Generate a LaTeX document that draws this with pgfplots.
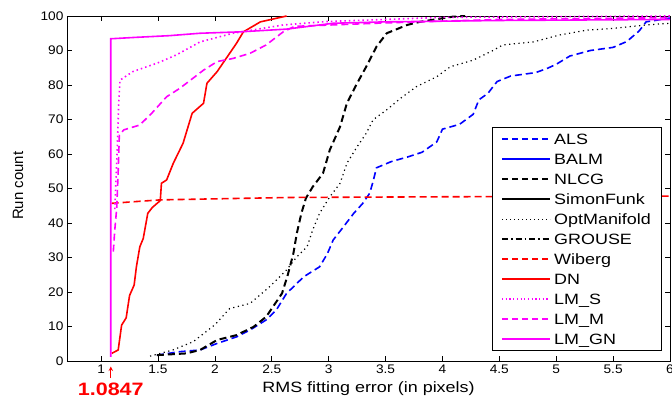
\documentclass[border=0pt]{standalone}
\usepackage{pgfplots}
\pgfplotsset{compat=1.18}
\usepackage{fontspec}
\setmainfont[FakeStretch=1.2]{Liberation Sans}
\newfontfamily\tickfont[FakeStretch=1.1]{Liberation Sans}
\newfontfamily\plainfont{Liberation Sans}
\definecolor{mag}{RGB}{255,0,255}
\tikzset{
  l0/.style={draw=blue, line width=1.2bp, dash pattern=on 6bp off 4bp},
  l1/.style={draw=blue, line width=1.2bp},
  l2/.style={draw=black, line width=1.2bp, dash pattern=on 6bp off 4bp},
  l3/.style={draw=black, line width=1.2bp},
  l4/.style={draw=black, line width=0.9bp, dash pattern=on 1bp off 3bp},
  l5/.style={draw=black, line width=1.1bp, dash pattern=on 6bp off 3bp on 1.5bp off 3bp},
  l6/.style={draw=red, line width=1.2bp, dash pattern=on 6bp off 4bp},
  l7/.style={draw=red, line width=1.2bp},
  l8/.style={draw=mag, line width=1.2bp, dash pattern=on 1.2bp off 2.5bp},
  l9/.style={draw=mag, line width=1.2bp, dash pattern=on 6bp off 4bp},
  l10/.style={draw=mag, line width=1.2bp},
}
\begin{document}
\begin{tikzpicture}
\begin{axis}[
  scale only axis, width=603bp, height=345bp,
  xmin=0.7, xmax=6, ymin=0, ymax=100,
  xtick={1,1.5,...,6}, ytick={0,10,...,100},
  tick align=inside, tick pos=both, major tick length=5bp,
  tick style={black, line width=0.6bp},
  axis line style={line width=0.8bp},
  /pgf/number format/assume math mode=true,
  tick label style={font=\tickfont\fontsize{12.5}{14}\selectfont},
  xticklabel style={inner sep=1bp, yshift=-3bp},
  xlabel={RMS fitting error (in pixels)}, ylabel={Run count},
  label style={font=\fontsize{15}{16}\selectfont},
  xlabel style={at={(axis description cs:0.5,-0.08)}, anchor=center},
  ylabel style={font=\plainfont\fontsize{15}{16}\selectfont, at={(axis description cs:-0.081,0.508)}, anchor=center},
  clip=false,
]
% ALS
\addplot[blue, line width=1.6bp, dash pattern=on 7bp off 4bp] coordinates {
(1.49,1.7)(1.69,2.7)(1.87,3.2)(2.02,5.1)(2.19,7)(2.31,9)(2.45,11.9)(2.54,14.8)(2.63,19.6)(2.69,21.5)(2.78,24.4)(2.92,27.3)(2.99,31.2)(3.04,35.1)(3.13,38.9)(3.22,42.8)(3.3,45.7)(3.36,48.6)(3.39,52)(3.42,56)(3.55,57.8)(3.7,59.2)(3.82,60.5)(3.95,63.5)(4.0,67.2)(4.15,68.6)(4.27,71.5)(4.32,75.7)(4.4,77.6)(4.48,81)(4.6,82.6)(4.82,83.6)(4.92,84.8)(5.0,86)(5.12,88.4)(5.3,90)(5.5,90.9)(5.62,92.6)(5.73,95.7)(5.79,98.3)(5.98,99.3)(6,99.4)};
% NLCG
\addplot[black, line width=2bp, dash pattern=on 7bp off 4bp] coordinates {
(1.49,1.7)(1.75,2.2)(1.87,3.2)(2.02,6.1)(2.19,7.5)(2.34,9.9)(2.45,12.8)(2.51,15.7)(2.59,19.6)(2.64,24.9)(2.69,31.2)(2.72,37)(2.76,42.8)(2.8,47.2)(2.86,50.5)(2.95,54.4)(3.01,61.2)(3.1,67.9)(3.16,74.7)(3.25,80.5)(3.33,85.3)(3.42,91.1)(3.51,95)(3.69,97.4)(3.8,98.3)(4.09,99.8)(4.2,100)};
% OptManifold
\addplot[black, line width=1.2bp, dash pattern=on 1.2bp off 3.5bp] coordinates {
(1.43,1.4)(1.63,3.2)(1.81,5.6)(2.0,10.5)(2.13,15.2)(2.31,16.7)(2.48,21.5)(2.63,26.4)(2.72,30.2)(2.81,33.1)(2.86,38)(2.92,42.8)(3.01,47.6)(3.1,51.5)(3.16,57.3)(3.25,62.1)(3.33,66)(3.39,69.9)(3.51,72.8)(3.63,76.1)(3.77,79.5)(3.95,82.4)(4.07,85.3)(4.27,87.2)(4.45,90.1)(4.53,91.6)(4.8,92.5)(5.03,94.5)(5.27,95.9)(5.5,96.4)(5.79,97.4)(6,97.9)};
% Wiberg
\addplot[red, line width=1.6bp, dash pattern=on 7bp off 4bp] coordinates {
(1.093,45.7)(1.3,46.2)(1.52,46.7)(2.0,47.0)(2.66,47.4)(4,47.6)(6,47.8)};
% DN
\addplot[red, line width=1.6bp] coordinates {
(1.093,2.2)(1.15,3.2)(1.18,10.4)(1.22,12.5)(1.25,19)(1.29,22)(1.31,27.3)(1.34,33.1)(1.37,35.5)(1.41,42.8)(1.45,44.5)(1.52,46.5)(1.53,51.5)(1.576,52.5)(1.634,57.3)(1.72,63.1)(1.8,71.8)(1.9,74.7)(1.93,80.5)(2.02,83.9)(2.13,89.2)(2.19,92.1)(2.25,95.4)(2.4,98.3)(2.63,100)};
% LM_S
\addplot[mag, line width=1.6bp, dash pattern=on 1.5bp off 3bp] coordinates {
(1.12,44)(1.14,60)(1.155,75)(1.166,81.4)(1.28,83.9)(1.49,86.3)(1.66,88.7)(1.87,92.5)(2.16,95)(2.6,97.4)(2.98,98.4)(3.5,99)(4,99.6)(6,100)};
% LM_M
\addplot[mag, line width=1.6bp, dash pattern=on 7bp off 4bp] coordinates {
(1.107,31.7)(1.12,38)(1.137,44.3)(1.15,55)(1.16,65.5)(1.2,67)(1.34,68.4)(1.45,72)(1.576,76.6)(1.69,79)(1.9,84.3)(2.02,86.8)(2.16,87.7)(2.31,89.2)(2.45,91.6)(2.6,95.4)(2.7,97)(3.5,98)(4.5,99)(6,99.5)};
% LM_GN
\addplot[mag, line width=1.6bp] coordinates {
(1.0847,1.2)(1.0847,93.4)(1.3,93.8)(1.6,94.3)(1.87,95)(2.22,95.4)(2.63,96.2)(3.04,97.9)(3.5,98.3)(4.5,98.7)(6,99)};
\draw[red, line width=1bp, -stealth] ([yshift=-17bp]axis cs:1.0847,0) -- ([yshift=-5.5bp]axis cs:1.0847,0);
\node[red, inner sep=0pt, font=\bfseries\fontsize{18}{19}\selectfont, anchor=center] at ([yshift=-28bp]axis cs:1.0847,0) {1.0847};
\end{axis}
% legend
\coordinate (O) at (current axis.south west);
\draw[black, line width=0.8bp, fill=white] ([shift={(425bp,11bp)}]O) rectangle ([shift={(594bp,234bp)}]O);
\foreach \i/\txt in {0/ALS,1/BALM,2/NLCG,3/SimonFunk,4/OptManifold,5/GROUSE,6/Wiberg,7/DN,8/LM\_S,9/LM\_M,10/LM\_GN}{
  \draw[l\i] ([shift={(435bp,222bp-20bp*\i)}]O) -- ++(48bp,0);
  \node[anchor=base west, inner sep=0pt, font=\fontsize{15}{16}\selectfont] at ([shift={(487bp,216.6bp-20bp*\i)}]O) {\txt};
}
\pgfresetboundingbox
\path (current axis.south west) ++(-67bp,-37bp) coordinate (bl);
\path (current axis.north east) ++(2bp,16bp) coordinate (tr);
\useasboundingbox (bl) rectangle (tr);
\end{tikzpicture}
\end{document}
